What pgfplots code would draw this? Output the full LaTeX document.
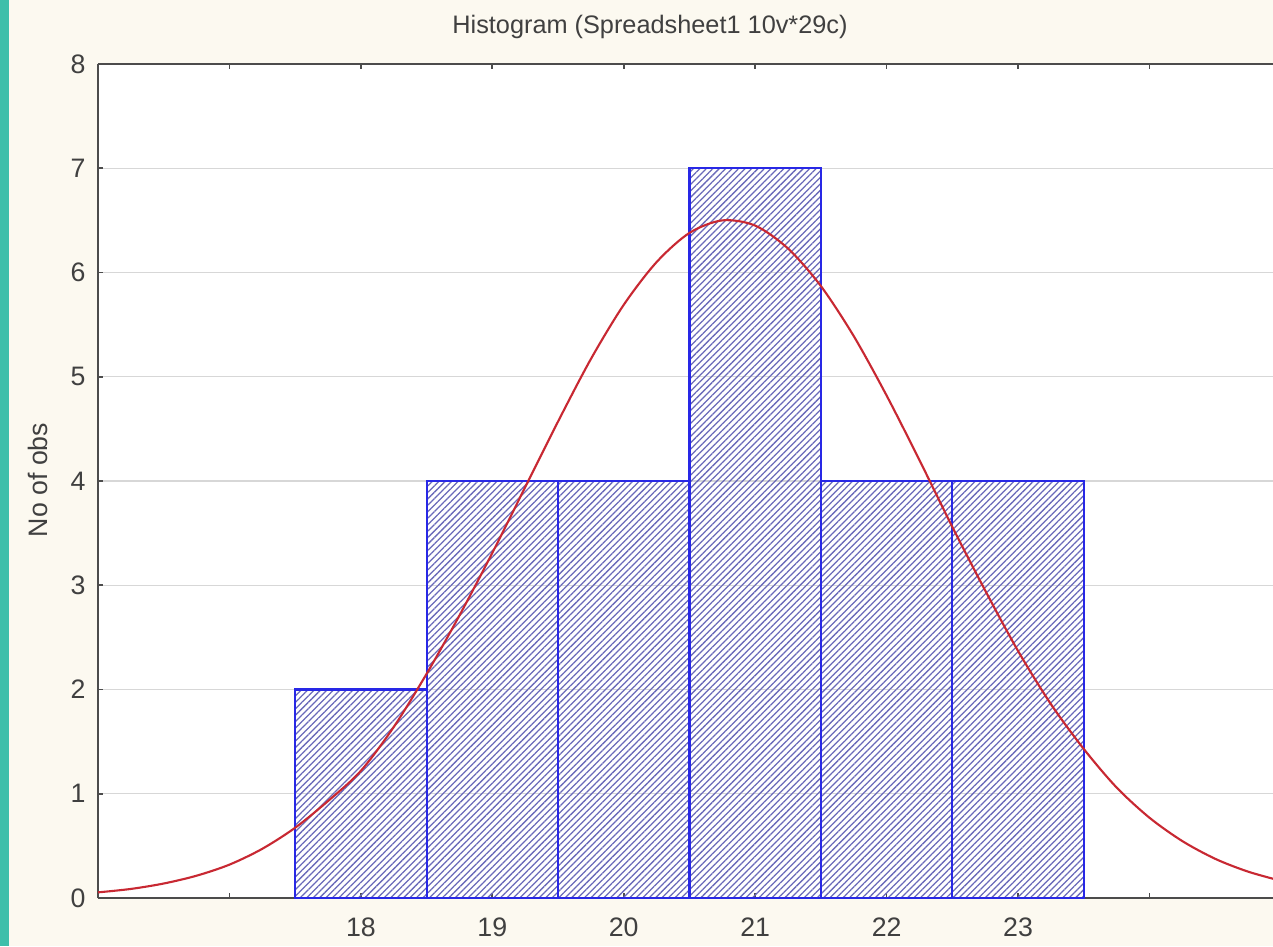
\documentclass[border=0pt]{standalone}
\usepackage{fontspec}
\setmainfont{Liberation Sans}
\usepackage{pgfplots}
\pgfplotsset{compat=1.18}
\usetikzlibrary{patterns.meta}
\definecolor{bgcream}{RGB}{252,249,240}
\definecolor{tealstrip}{RGB}{62,191,170}
\definecolor{barblue}{RGB}{40,40,230}
\definecolor{hatch}{RGB}{105,105,185}
\definecolor{curvered}{RGB}{200,40,50}
\definecolor{gridgray}{RGB}{215,215,215}
\begin{document}
\begin{tikzpicture}
\fill[bgcream] (0,0) rectangle (12.73,9.46);
\fill[tealstrip] (0,0) rectangle (0.09,9.46);
\useasboundingbox (0,0) rectangle (12.73,9.46);
\node[font=\fontsize{7.2}{8.5}\selectfont, text=black!75] at (6.50,9.19) {Histogram (Spreadsheet1 10v*29c)};
\node[font=\fontsize{7.6}{9}\selectfont, text=black!75, rotate=90] at (0.38,4.66) {No of obs};
\begin{axis}[
  at={(0.98cm,0.48cm)}, anchor=south west,
  scale only axis, width=11.75cm, height=8.34cm,
  xmin=16, xmax=24.94, ymin=0, ymax=8,
  axis x line*=box, axis y line*=left,
  axis line style={black!70, line width=0.7pt},
  axis background/.style={fill=white},
  xtick={16,17,18,19,20,21,22,23,24},
  xticklabels={,,18,19,20,21,22,23,},
  ytick={0,1,2,3,4,5,6,7,8},
  tick align=inside, major tick length=1.4pt,
  tick style={black!70, line width=0.5pt},
  ymajorgrids, grid style={gridgray, line width=0.4pt},
  ticklabel style={font=\fontsize{7.6}{9}\selectfont, text=black!75},
  /pgf/number format/assume math mode=true,
  xticklabel style={yshift=-2pt},
  clip=true,
]
\addplot[ybar, bar width=1, draw=barblue, line width=0.6pt,
  pattern={Lines[angle=45, distance=1.3pt, line width=0.36pt]}, pattern color=hatch]
  coordinates {(18,2)(19,4)(20,4)(21,7)(22,4)(23,4)};
\addplot[smooth, curvered, line width=0.6pt] coordinates {
(16,0.054)(16.25,0.087)(16.5,0.139)(16.75,0.214)(17,0.32)(17.25,0.472)
(17.5,0.674)(17.75,0.93)(18,1.22)(18.25,1.64)(18.5,2.15)(18.75,2.71)
(19,3.31)(19.25,3.94)(19.5,4.57)(19.75,5.17)(20,5.69)(20.25,6.10)
(20.5,6.38)(20.75,6.50)(21,6.45)(21.25,6.23)(21.5,5.87)(21.75,5.39)
(22,4.82)(22.25,4.20)(22.5,3.56)(22.75,2.95)(23,2.37)(23.25,1.86)
(23.5,1.43)(23.75,1.06)(24,0.77)(24.25,0.546)(24.5,0.376)(24.75,0.253)(25,0.165)};
\end{axis}
\end{tikzpicture}
\end{document}
